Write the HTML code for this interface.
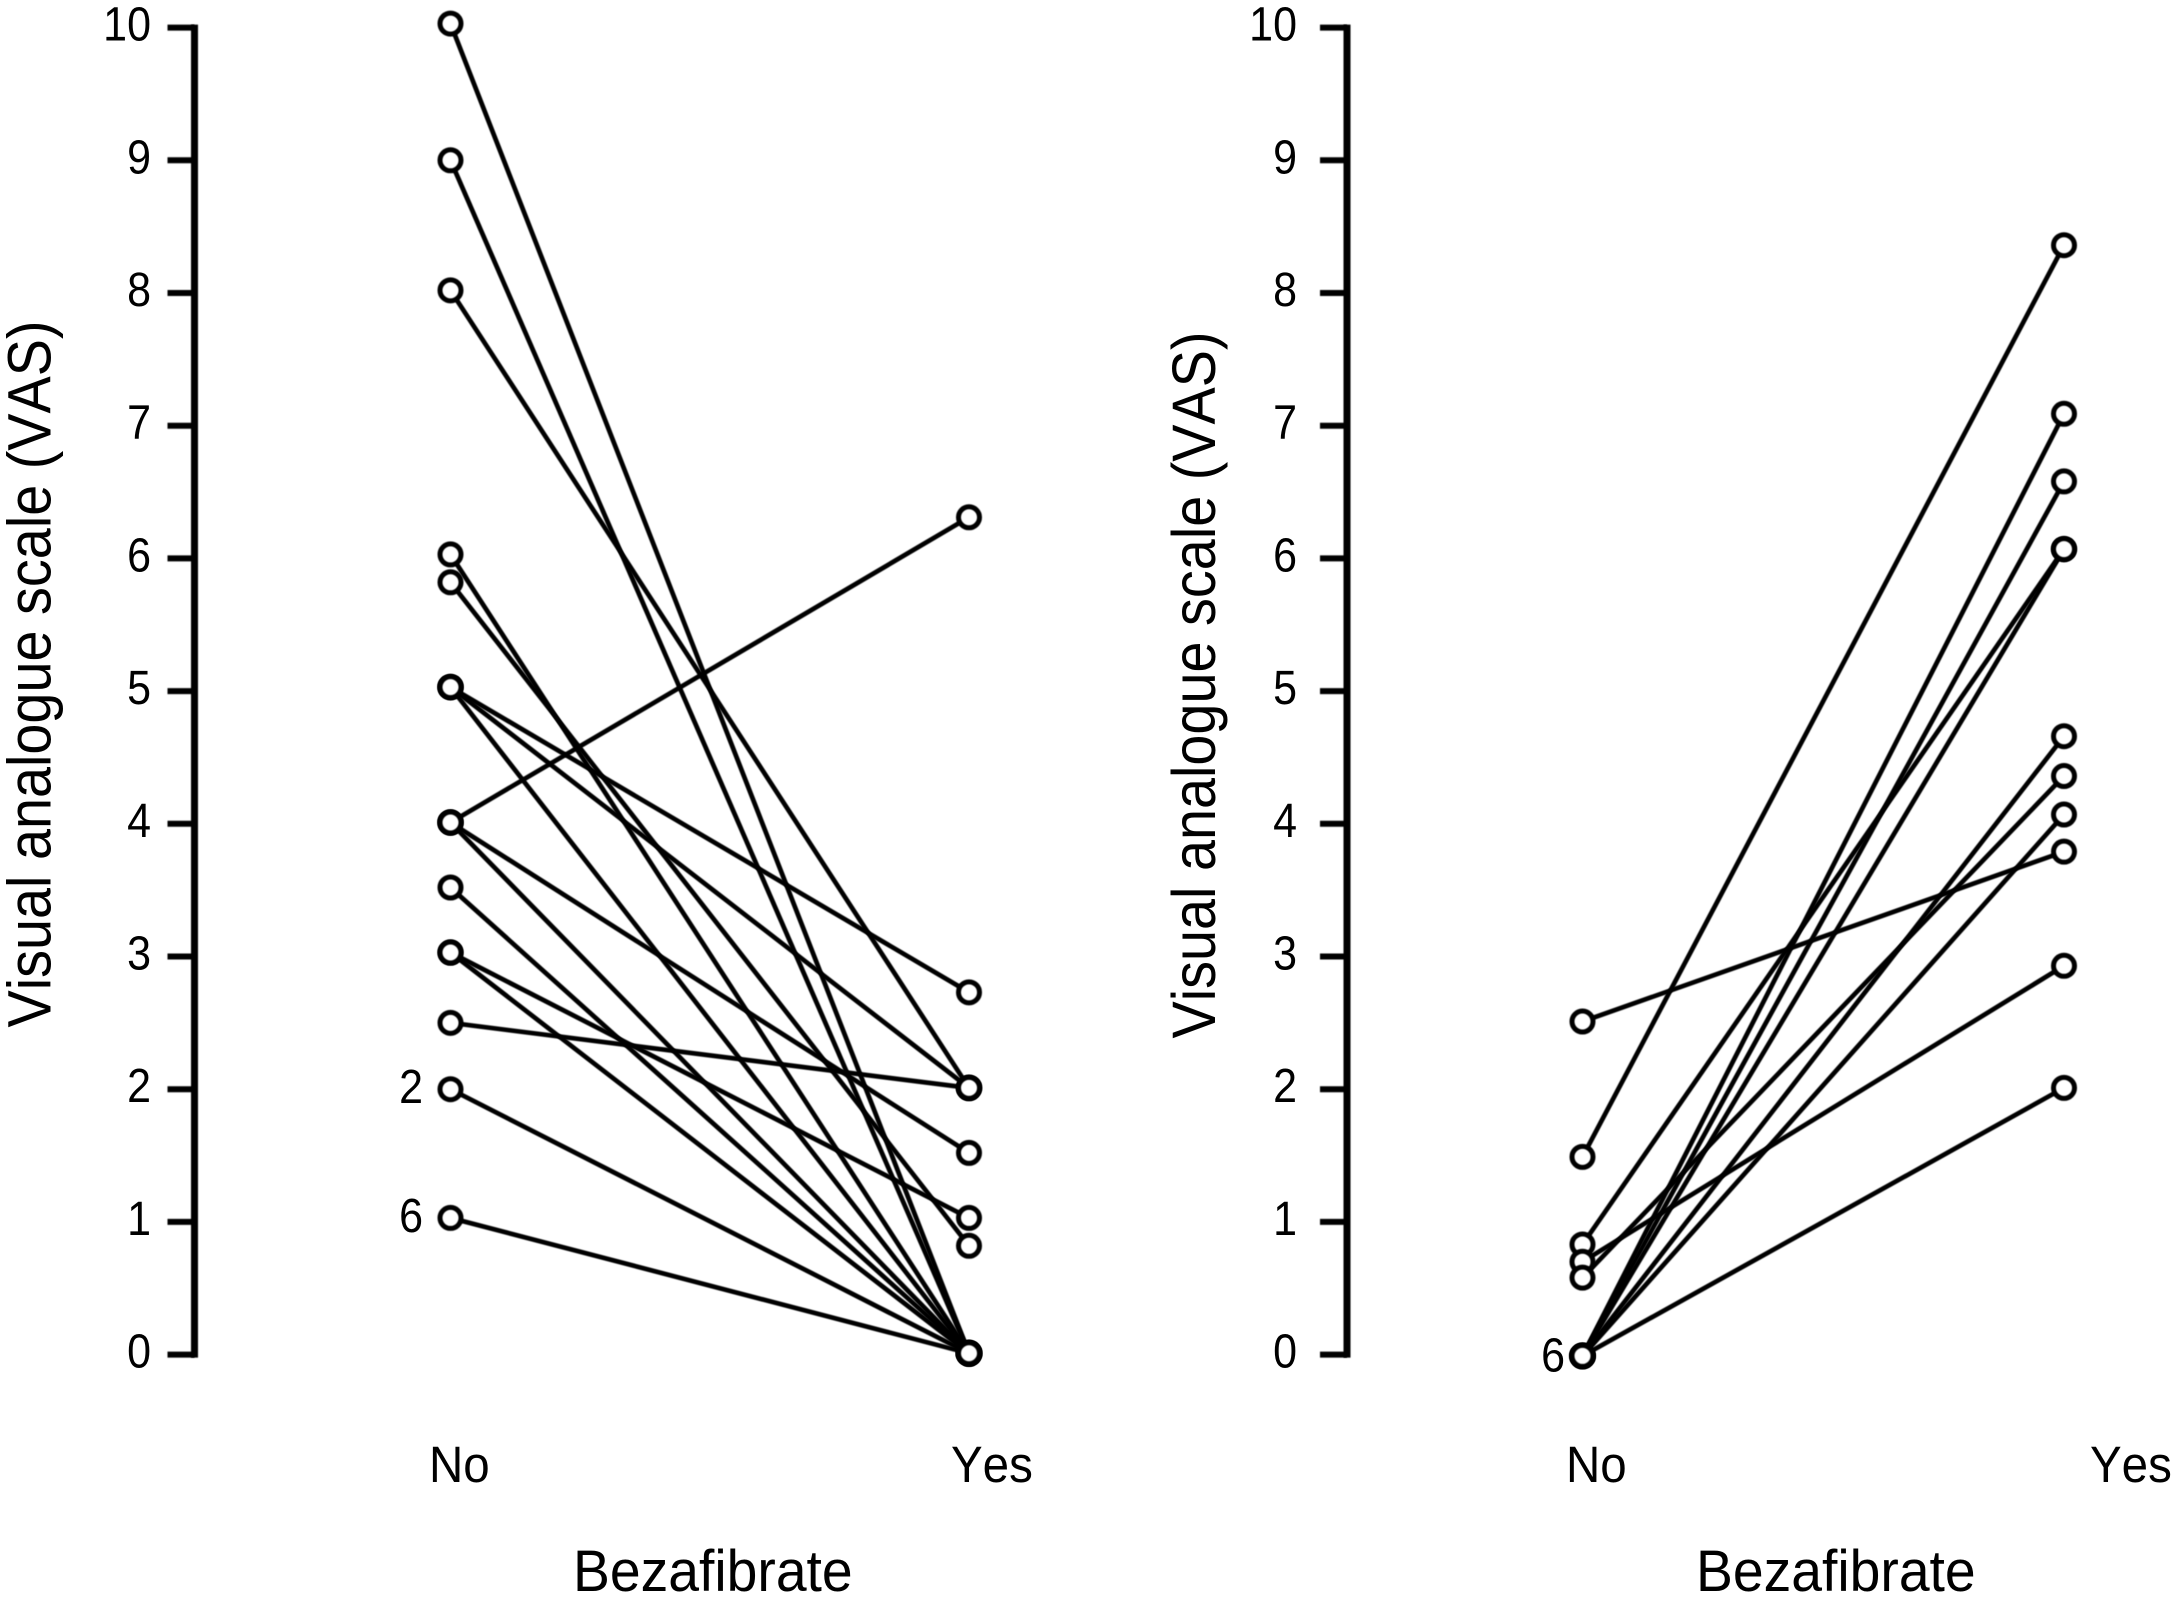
<!DOCTYPE html>
<html lang="en">
<head>
<meta charset="utf-8">
<title>Visual analogue scale by bezafibrate</title>
<style>
html,body{margin:0;padding:0;background:#fff;width:2173px;height:1603px;overflow:hidden}
svg{display:block;font-family:"Liberation Sans",Arial,sans-serif;fill:#000;font-kerning:none}
text{fill:#000;font-kerning:none}
#panel-left>line,#panel-left>circle,#panel-right>line,#panel-right>circle{filter:blur(0.6px)}
</style>
</head>
<body>
<svg id="chart" xmlns="http://www.w3.org/2000/svg" width="2173" height="1603" viewBox="0 0 2173 1603">
  <rect x="0" y="0" width="2173" height="1603" fill="#fff"/>
  <g id="panel-left"></g>
  <g id="panel-right"></g>
  <text transform="translate(50.5,674) rotate(-90) scale(1,1.1)" text-anchor="middle" font-size="55.8">Visual analogue scale (VAS)</text>
  <text transform="translate(1215,685) rotate(-90) scale(1,1.1)" text-anchor="middle" font-size="55.8">Visual analogue scale (VAS)</text>
  <text transform="translate(573,1591) scale(1,1.06)" font-size="55.3">Bezafibrate</text>
  <text transform="translate(1696,1591) scale(1,1.06)" font-size="55.3">Bezafibrate</text>
</svg>
<script>
const yTicks = [0, 1, 2, 3, 4, 5, 6, 7, 8, 9, 10];
const groupLabels = ['No', 'Yes'];

const leftNo  = [10.03, 9.0, 8.02, 6.03, 5.82, 5.03, 5.03, 5.03, 4.01, 4.01, 4.01, 3.52, 3.03, 3.03, 2.5, 2.0, 1.03];
const leftYes = [0.01, 0.01, 2.01, 0.01, 0.82, 2.73, 2.01, 0.01, 6.31, 1.52, 0.01, 0.01, 1.03, 0.01, 2.01, 0.01, 0.01];

const rightNo  = [2.51, 1.49, 0.83, 0.7, 0.58, -0.01, -0.01, -0.01, -0.01, -0.01, -0.01];
const rightYes = [3.79, 8.36, 6.07, 2.93, 4.36, 7.09, 6.58, 6.07, 4.66, 4.07, 2.01];

const leftCounts = [{value: 2.0, text: '2'}, {value: 1.03, text: '6'}];
const rightCounts = [{value: 0, text: '6'}];

const SVG_NS = 'http://www.w3.org/2000/svg';

function yScale(v) {
  return 1354.6 - 132.7 * v;
}

function make(parent, tag, attrs, text) {
  const el = document.createElementNS(SVG_NS, tag);
  for (const k in attrs) el.setAttribute(k, attrs[k]);
  if (text !== undefined) el.textContent = text;
  parent.appendChild(el);
  return el;
}

function place(x, y, sy) {
  return 'translate(' + x + ',' + y + ') scale(1,' + sy + ')';
}

function drawPanel(parent, cfg, noVals, yesVals, counts) {
  const xScale = function (i) { return i === 0 ? cfg.xNo : cfg.xYes; };

  const axis = make(parent, 'line', {x1: cfg.axisX, x2: cfg.axisX, y1: yScale(10) - 3, y2: yScale(0) + 3, stroke: '#000', 'stroke-width': 7});
  
  

  yTicks.forEach(function (t) {
    const tick = make(parent, 'line', {x1: cfg.axisX - 27, x2: cfg.axisX, y1: yScale(t), y2: yScale(t), stroke: '#000', 'stroke-width': 6});
    
    
    const label = make(parent, 'text', {transform: place(cfg.labelX, yScale(t) + 13, 1.13), 'text-anchor': 'end', 'font-size': 43}, String(t));
    
    
  });

  noVals.forEach(function (v, i) {
    const seg = make(parent, 'line', {x1: xScale(0), y1: yScale(v), x2: xScale(1), y2: yScale(yesVals[i]), stroke: '#000', 'stroke-width': 4.7});
    
    
  });

  noVals.forEach(function (v, i) {
    const dot = make(parent, 'circle', {cx: xScale(0), cy: yScale(v), r: 10.5, fill: '#fff', stroke: '#000', 'stroke-width': 5});
    
    
  });
  yesVals.forEach(function (v, i) {
    const dot = make(parent, 'circle', {cx: xScale(1), cy: yScale(v), r: 10.5, fill: '#fff', stroke: '#000', 'stroke-width': 5});
    
    
  });

  counts.forEach(function (c) {
    const note = make(parent, 'text', {transform: place(cfg.xNo - cfg.noteGap, yScale(c.value) + cfg.noteDy, 1.13), 'text-anchor': 'end', 'font-size': 43}, c.text);
    
    
  });

  groupLabels.forEach(function (g, i) {
    const cat = make(parent, 'text', {transform: place(cfg.catX[i], 1482, 1.08), 'font-size': 47.5}, g);
    
    
  });
}

drawPanel(document.getElementById('panel-left'),
  {axisX: 194.5, labelX: 151, xNo: 450.5, xYes: 969, catX: [429, 951], noteGap: 27.5, noteDy: 14},
  leftNo, leftYes, leftCounts);

drawPanel(document.getElementById('panel-right'),
  {axisX: 1347, labelX: 1297, xNo: 1582.5, xYes: 2064, catX: [1566, 2090], noteGap: 17.5, noteDy: 17},
  rightNo, rightYes, rightCounts);
</script>
</body>
</html>
